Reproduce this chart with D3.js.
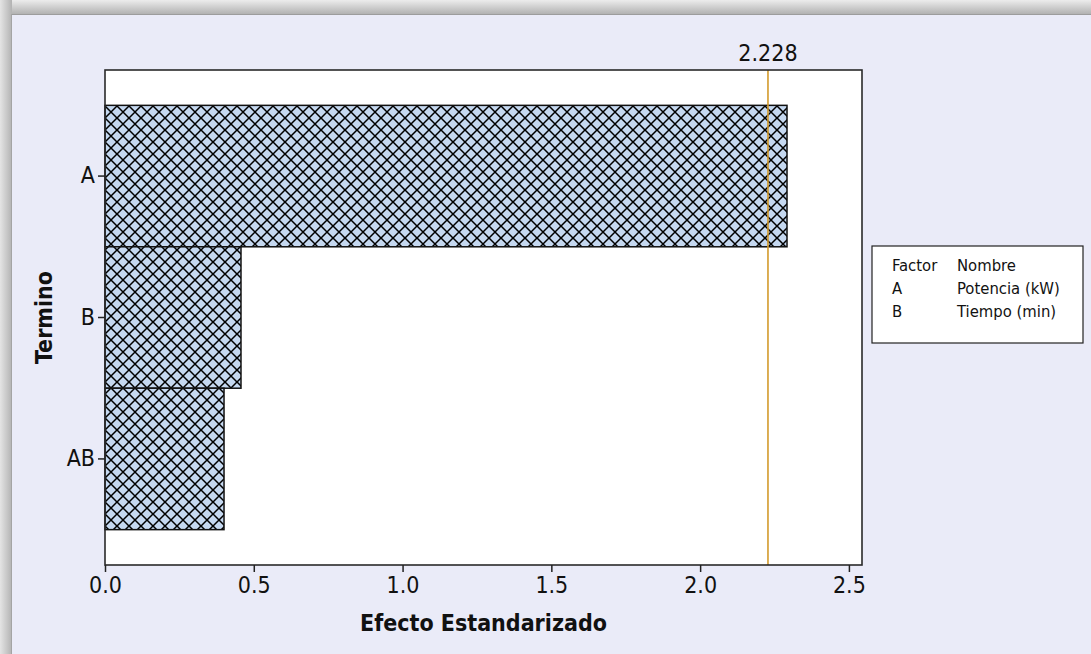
<!DOCTYPE html>
<html><head><meta charset="utf-8">
<script src="https://cdn.jsdelivr.net/npm/d3@7"></script>
<style>html,body{margin:0;padding:0;background:#eaebf8;} svg{display:block}</style>
</head><body><svg id="c" width="1091" height="654"></svg>
<script>
// ---- data ----
const terms = ["A", "B", "AB"];
const effects = [2.292, 0.457, 0.400];
const critical = 2.228;
const xTicks = [0, 0.5, 1.0, 1.5, 2.0, 2.5];
const xMax = 2.544;
const legendFactors = ["A", "B"];
const legendNames = ["Potencia (kW)", "Tiempo (min)"];
const legendHeader = ["Factor", "Nombre"];
const xTitle = "Efecto Estandarizado";
const yTitle = "Termino";

const FONT = "'DejaVu Sans Condensed', 'DejaVu Sans', sans-serif";
const svg = d3.select("#c");
const W = 1091, H = 654;
const M = {left: 105, right: 862, top: 70, bottom: 565};

// defs: gradients + pattern
const defs = svg.append("defs");
const gT = defs.append("linearGradient").attr("id", "gTop").attr("x1", 0).attr("y1", 0).attr("x2", 0).attr("y2", 1);
gT.append("stop").attr("offset", 0).attr("stop-color", "#ececec");
gT.append("stop").attr("offset", 1).attr("stop-color", "#b2b2b2");
const gL = defs.append("linearGradient").attr("id", "gLeft").attr("x1", 0).attr("y1", 0).attr("x2", 1).attr("y2", 0);
gL.append("stop").attr("offset", 0).attr("stop-color", "#e4e4e4");
gL.append("stop").attr("offset", 1).attr("stop-color", "#b2b2b2");

const T = 12;
const pat = defs.append("pattern").attr("id", "hatch").attr("patternUnits", "userSpaceOnUse")
  .attr("width", T).attr("height", T).attr("x", M.left).attr("y", 106);
pat.append("rect").attr("width", T).attr("height", T).attr("fill", "#c5d8f0");
pat.append("path").attr("d", `M-1,-1 L${T + 1},${T + 1} M-1,${T + 1} L${T + 1},-1`)
  .attr("stroke", "#000").attr("stroke-width", 1.5).attr("fill", "none");

// background frame
svg.append("rect").attr("width", W).attr("height", H).attr("fill", "#eaebf8");
svg.append("rect").attr("x", 0).attr("y", 0).attr("width", W).attr("height", 14).attr("fill", "url(#gTop)");
svg.append("rect").attr("x", 0).attr("y", 0).attr("width", 12).attr("height", H).attr("fill", "url(#gLeft)");
svg.append("line").attr("x1", 12).attr("x2", W).attr("y1", 14.5).attr("y2", 14.5).attr("stroke", "#9c9c9c").attr("stroke-width", 1);
svg.append("line").attr("x1", 11.5).attr("x2", 11.5).attr("y1", 14).attr("y2", H).attr("stroke", "#a4a4a4").attr("stroke-width", 1);

// scales
const x = d3.scaleLinear().domain([0, xMax]).range([M.left, M.right]);
const y = d3.scaleBand().domain(terms).range([M.top, M.bottom]).paddingInner(0).paddingOuter(0.25);

// plot area
svg.append("rect").attr("x", M.left).attr("y", M.top).attr("width", M.right - M.left).attr("height", M.bottom - M.top)
  .attr("fill", "#fff");

// bars
svg.append("g").selectAll("rect").data(terms).join("rect")
  .attr("x", x(0))
  .attr("y", d => y(d))
  .attr("width", (d, i) => x(effects[i]) - x(0))
  .attr("height", y.bandwidth())
  .attr("fill", "url(#hatch)")
  .attr("stroke", "#111").attr("stroke-width", 1.5);

// reference line
svg.append("line").attr("x1", x(critical)).attr("x2", x(critical)).attr("y1", M.top).attr("y2", M.bottom)
  .attr("stroke", "#d39a2c").attr("stroke-width", 1.6);
svg.append("text").attr("x", x(critical)).attr("y", 61).attr("text-anchor", "middle")
  .attr("font-family", FONT).attr("font-size", 23).attr("fill", "#111").text(d3.format(".3f")(critical));

// plot border
svg.append("rect").attr("x", M.left).attr("y", M.top).attr("width", M.right - M.left).attr("height", M.bottom - M.top)
  .attr("fill", "none").attr("stroke", "#2a2a2a").attr("stroke-width", 1.6);

// axes
const xa = svg.append("g").attr("transform", `translate(0,${M.bottom})`)
  .call(d3.axisBottom(x).tickValues(xTicks).tickFormat(d3.format(".1f")).tickSize(7).tickPadding(5));
const ya = svg.append("g").attr("transform", `translate(${M.left},0)`)
  .call(d3.axisLeft(y).tickSize(7).tickPadding(3));
[xa, ya].forEach(g => {
  g.select(".domain").remove();
  g.selectAll(".tick line").attr("stroke", "#222").attr("stroke-width", 1.5);
  g.selectAll(".tick text").attr("font-family", FONT).attr("font-size", 23).attr("fill", "#111");
});

// axis titles
svg.append("text").attr("x", (M.left + M.right) / 2).attr("y", 631).attr("text-anchor", "middle")
  .attr("font-family", FONT).attr("font-weight", "bold").attr("font-size", 23).attr("fill", "#111").text(xTitle);
svg.append("text").attr("transform", `translate(52,${(M.top + M.bottom) / 2}) rotate(-90)`).attr("text-anchor", "middle")
  .attr("font-family", FONT).attr("font-weight", "bold").attr("font-size", 23).attr("fill", "#111").text(yTitle);

// legend
const lg = svg.append("g");
lg.append("rect").attr("x", 872).attr("y", 246).attr("width", 211).attr("height", 97)
  .attr("fill", "#fff").attr("stroke", "#222").attr("stroke-width", 1.2);
const rows = [legendHeader].concat(legendFactors.map((f, i) => [f, legendNames[i]]));
rows.forEach((r, i) => {
  lg.append("text").attr("x", 892).attr("y", 271 + i * 23).attr("font-family", FONT).attr("font-size", 16.5).attr("fill", "#111").text(r[0]);
  lg.append("text").attr("x", 957).attr("y", 271 + i * 23).attr("font-family", FONT).attr("font-size", 16.5).attr("fill", "#111").text(r[1]);
});
</script>
</body></html>
